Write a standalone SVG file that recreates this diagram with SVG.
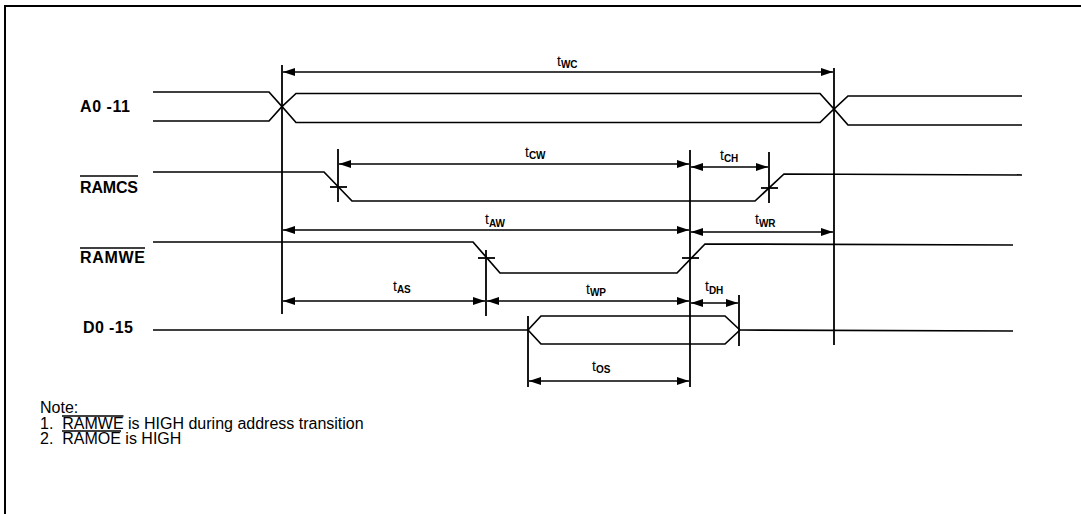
<svg xmlns="http://www.w3.org/2000/svg" width="1081" height="514" viewBox="0 0 1081 514">
<defs>
<marker id="ah" viewBox="0 0 12 8" refX="12" refY="4" markerWidth="12" markerHeight="8" markerUnits="userSpaceOnUse" orient="auto-start-reverse">
<path d="M0,0 L12,4 L0,8 z" fill="#000"/>
</marker>
<style>
.sig{fill:none;stroke:#000;stroke-width:1.7;stroke-linejoin:miter}
.ref{fill:none;stroke:#000;stroke-width:1.8}
.dim{fill:none;stroke:#000;stroke-width:1.5;marker-start:url(#ah);marker-end:url(#ah)}
.ovl{stroke:#000;stroke-width:1.5}
.lbl{font-family:"Liberation Sans",Arial,sans-serif;font-weight:bold;font-size:16px;fill:#000}
.t{font-family:"Liberation Sans",Arial,sans-serif;font-size:14px;fill:#000}
.sub{font-size:10px;font-weight:bold}
.note{font-family:"Liberation Sans",Arial,sans-serif;font-size:16px;fill:#000}
</style>
</defs>
<rect width="1081" height="514" fill="#fff"/>
<g id="frame"><path d="M5,514 L5,6 L1081,6" fill="none" stroke="#000" stroke-width="2"/></g>

<g id="A0-11">
<text class="lbl" x="80" y="112" textLength="50">A0 -11</text>
<path class="sig" d="M153,92 L269,92 L282,106.5 L296,93.5 L820,93.5 L834,109 L848,96 L1022,96"/>
<path class="sig" d="M153,121 L269,121 L282,106.5 L296,122.5 L820,122.5 L834,109 L848,125 L1022,125"/>
</g>

<g id="RAMCS">
<text class="lbl" x="80" y="193" textLength="58">RAMCS</text>
<line class="ovl" x1="80" y1="176" x2="138" y2="176"/>
<path class="sig" d="M153,172 L324,172 L352,201 L755,201 L784,174 L1022,175"/>
</g>

<g id="RAMWE">
<text class="lbl" x="80" y="263" textLength="65">RAMWE</text>
<line class="ovl" x1="80" y1="248" x2="145" y2="248"/>
<path class="sig" d="M153,242 L473,242 L500,273 L677,273 L705,244 L1013,245"/>
</g>

<g id="D0-15">
<text class="lbl" x="83" y="333" textLength="50">D0 -15</text>
<path class="sig" d="M153,330 L528,330 L541,316 L725,316 L740,330 L1013,331"/>
<path class="sig" d="M528,330 L541,344 L725,344 L740,330"/>
</g>

<g id="connectors">
<line class="ref" x1="282" y1="65" x2="282" y2="314"/>
<line class="ref" x1="834" y1="68" x2="834" y2="345"/>
<line class="ref" x1="338" y1="149" x2="338" y2="202"/>
<line class="ref" x1="690" y1="150" x2="690" y2="387"/>
<line class="ref" x1="769" y1="152" x2="769" y2="203"/>
<line class="ref" x1="486" y1="250" x2="486" y2="316"/>
<line class="ref" x1="528" y1="316" x2="528" y2="387"/>
<line class="ref" x1="739" y1="295" x2="739" y2="346"/>
<line class="ref" x1="330" y1="187" x2="347" y2="187"/>
<line class="ref" x1="761" y1="188" x2="778" y2="188"/>
<line class="ref" x1="478" y1="258" x2="495" y2="258"/>
<line class="ref" x1="682" y1="258" x2="699" y2="258"/>

<line class="dim" x1="283" y1="72" x2="833" y2="72"/>
<line class="dim" x1="339" y1="164" x2="689" y2="164"/>
<line class="dim" x1="691" y1="167" x2="768" y2="167"/>
<line class="dim" x1="283" y1="230" x2="689" y2="230"/>
<line class="dim" x1="691" y1="232" x2="833" y2="232"/>
<line class="dim" x1="283" y1="301" x2="485" y2="301"/>
<line class="dim" x1="487" y1="301" x2="689" y2="301"/>
<line class="dim" x1="691" y1="303" x2="738" y2="303"/>
<line class="dim" x1="529" y1="381" x2="689" y2="381"/>
</g>

<g id="labels">
<text class="t" x="557" y="66">t<tspan class="sub" dy="2">WC</tspan></text>
<text class="t" x="525" y="157">t<tspan class="sub" dy="2">CW</tspan></text>
<text class="t" x="720" y="160">t<tspan class="sub" dy="2">CH</tspan></text>
<text class="t" x="485" y="224">t<tspan class="sub" dy="3">AW</tspan></text>
<text class="t" x="755" y="224">t<tspan class="sub" dy="3">WR</tspan></text>
<text class="t" x="393" y="291">t<tspan class="sub" dy="2">AS</tspan></text>
<text class="t" x="586" y="294">t<tspan class="sub" dy="2">WP</tspan></text>
<text class="t" x="705" y="291">t<tspan class="sub" dy="3">DH</tspan></text>
<text class="t" x="592" y="371">t<tspan class="sub" dy="2">OS</tspan></text>
</g>

<g id="notes">
<text class="note" x="40" y="413">Note:</text>
<text class="note" x="40" y="429" xml:space="preserve">1.  RAMWE is HIGH during address transition</text>
<line class="ovl" x1="62" y1="416" x2="123.5" y2="416"/>
<text class="note" x="40" y="444" xml:space="preserve">2.  RAMOE is HIGH</text>
<line class="ovl" x1="62" y1="431" x2="121" y2="431"/>
</g>
</svg>
